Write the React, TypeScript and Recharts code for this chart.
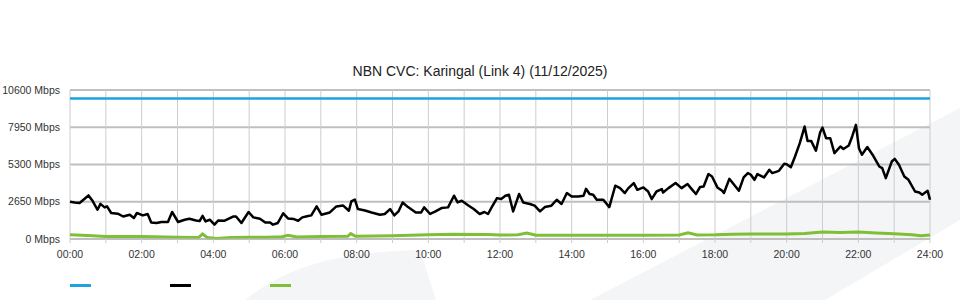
import { CartesianGrid, Legend, Line, LineChart, XAxis, YAxis } from "recharts";

const title = "NBN CVC: Karingal (Link 4) (11/12/2025)";

// minutes since midnight / Mbps
const capacityTimes = [0, 1440];
const capacityValues = [10000, 10000];

const downTimes = [
  0, 8, 16, 24, 31, 38, 46, 51, 58, 62, 69, 80, 89, 100, 107, 112, 122, 130, 136, 145,
  153, 164, 171, 181, 192, 200, 211, 217, 222, 227, 234, 242, 248, 259, 273, 278, 287, 299, 307, 318,
  327, 335, 340, 348, 357, 365, 375, 382, 389, 397, 404, 413, 421, 435, 446, 457, 467, 471, 477, 482,
  494, 505, 519, 527, 536, 543, 550, 557, 566, 579, 588, 593, 603, 612, 622, 633, 643, 649, 656, 667,
  676, 686, 694, 700, 706, 715, 722, 729, 735, 742, 752, 759, 770, 778, 787, 795, 806, 815, 823, 832,
  840, 851, 860, 864, 870, 876, 882, 893, 903, 913, 921, 929, 935, 944, 950, 960, 968, 974, 982, 991,
  993, 1002, 1014, 1024, 1034, 1041, 1048, 1055, 1061, 1069, 1075, 1084, 1092, 1095, 1104, 1120, 1128, 1135, 1140, 1146,
  1151, 1162, 1171, 1176, 1187, 1196, 1200, 1207, 1214, 1222, 1230, 1235, 1241, 1249, 1256, 1260, 1266, 1273, 1280, 1290,
  1295, 1304, 1310, 1316, 1321, 1326, 1335, 1345, 1355, 1360, 1366, 1376, 1381, 1388, 1397, 1404, 1415, 1422, 1427, 1436,
  1440,
];
const downValues = [
  2650, 2600, 2560, 2850, 3100, 2700, 2080, 2500, 2250, 2320, 1850, 1800, 1600, 1730, 1490, 1850, 1680, 1780, 1180, 1140,
  1210, 1210, 1920, 1210, 1370, 1440, 1320, 1280, 1650, 1250, 1370, 1020, 1320, 1300, 1600, 1600, 1140, 1920, 1540, 1440,
  1180, 1180, 1020, 1140, 1820, 1460, 1420, 1300, 1540, 1620, 1680, 2320, 1730, 1890, 2320, 2390, 2010, 2670, 2810, 2130,
  2030, 1890, 1730, 1780, 2130, 1680, 1960, 2600, 2270, 1890, 1890, 2250, 1780, 1960, 2200, 2250, 3080, 2600, 2720, 2390,
  2130, 1780, 1920, 1780, 2250, 2910, 2840, 3080, 3150, 1960, 3200, 2600, 2490, 2370, 1960, 2270, 2370, 2790, 2490, 3270,
  3030, 3030, 3080, 3570, 3200, 3150, 2790, 2790, 2270, 3790, 3620, 3270, 3620, 3980, 3500, 3670, 3380, 2840, 3380, 3550,
  3310, 3620, 3980, 3620, 3910, 3550, 3200, 3700, 3740, 4620, 4450, 3670, 3430, 3270, 4280, 3430, 4380, 4690, 4570, 4210,
  4620, 4380, 4920, 4690, 4850, 5350, 5320, 5110, 5870, 6820, 8000, 6980, 6980, 6280, 7580, 7930, 7170, 7170, 6110, 6580,
  6400, 6650, 7330, 8120, 6460, 5990, 6540, 5920, 5160, 5040, 4330, 5510, 5700, 5280, 4450, 4210, 3380, 3310, 3150, 3430,
  2790,
];

const upTimes = [
  0, 30, 60, 120, 180, 215, 222, 230, 245, 270, 300, 330, 355, 365, 380, 420, 465, 470, 478, 540,
  570, 600, 640, 700, 720, 750, 765, 780, 840, 900, 960, 1020, 1035, 1050, 1080, 1110, 1140, 1200, 1230, 1260,
  1290, 1320, 1350, 1380, 1410, 1425, 1440,
];
const upValues = [
  300, 250, 185, 185, 120, 100, 355, 100, 40, 100, 130, 120, 160, 270, 150, 170, 190, 380, 190, 230,
  260, 300, 340, 320, 280, 300, 420, 270, 260, 270, 270, 290, 440, 290, 300, 340, 350, 360, 400, 490,
  470, 500, 430, 380, 300, 230, 290,
];

const yTicks = [0, 2650, 5300, 7950, 10600];
const hourTicks = [
  0, 60, 120, 180, 240, 300, 360, 420, 480, 540, 600, 660, 720, 780, 840, 900, 960, 1020, 1080, 1140,
  1200, 1260, 1320, 1380, 1440,
];

const BLUE = "#1ea3df";
const BLACK = "#000000";
const GREEN = "#7fbf36";
const FONT = "'Liberation Sans', Arial, sans-serif";

const toPoints = (times: number[], values: number[]) => times.map((t, i) => ({ t, v: values[i] }));

const fmtHour = (v: number) => (v % 120 === 0 ? `${String(v / 60).padStart(2, "0")}:00` : "");

function YTick({ x, y, payload }: any) {
  return (
    <text x={x} y={y} dy="0.35em" textAnchor="end" fontSize={10.5} fill="#333" fontFamily={FONT}>
      {`${payload.value} Mbps`}
    </text>
  );
}

function LegendSwatches({ payload }: any) {
  return (
    <div style={{ position: "relative", width: 960, height: 30 }}>
      {(payload || []).map((entry: any, i: number) => (
        <span
          key={i}
          style={{
            position: "absolute",
            left: 70 + i * 100,
            top: 14,
            width: 21,
            height: 2.5,
            background: entry.color,
          }}
        />
      ))}
    </div>
  );
}

export default function App() {
  return (
    <div style={{ position: "fixed", left: 0, top: 0, width: 960, height: 300, background: "#fff", fontFamily: FONT }}>
      <svg width={960} height={300} style={{ position: "absolute", left: 0, top: 0 }}>
        <path d="M 245 300 C 285 268, 335 252, 420 250 L 436 300 Z" fill="#f4f5f7" />
        <polygon points="590,300 960,108 960,220 825,300" fill="#f4f5f7" />
      </svg>
      <div
        style={{
          position: "absolute",
          left: 0,
          top: 62,
          width: 960,
          textAlign: "center",
          fontSize: 14,
          color: "#222",
          lineHeight: "18px",
        }}
      >
        {title}
      </div>
      <div style={{ position: "absolute", left: 0, top: 0 }}>
        <LineChart width={960} height={300} margin={{ top: 90, right: 30, left: 0, bottom: 1 }}>
          <CartesianGrid vertical={false} stroke="#bfbfbf" strokeWidth={2} />
          <CartesianGrid horizontal={false} stroke="#cdcdcd" strokeWidth={1} />
          <XAxis
            type="number"
            dataKey="t"
            domain={[0, 1440]}
            ticks={hourTicks}
            interval={0}
            tickFormatter={fmtHour}
            axisLine={{ stroke: "#bfbfbf" }}
            tickLine={{ stroke: "#cdcdcd" }}
            tickSize={4}
            tickMargin={8}
            height={30}
            tick={{ fontSize: 10.5, fill: "#333", fontFamily: FONT }}
          />
          <YAxis
            type="number"
            domain={[0, 10600]}
            ticks={yTicks}
            interval={0}
            width={70}
            axisLine={false}
            tickLine={false}
            tickSize={6}
            tickMargin={4}
            tick={<YTick />}
          />
          <Legend
            verticalAlign="bottom"
            height={30}
            content={<LegendSwatches />}
            wrapperStyle={{ left: 0, bottom: 0, width: 960, height: 30 }}
          />
          <Line
            data={toPoints(capacityTimes, capacityValues)}
            dataKey="v"
            name="capacity"
            stroke={BLUE}
            strokeWidth={2.5}
            dot={false}
            isAnimationActive={false}
          />
          <Line
            data={toPoints(downTimes, downValues)}
            dataKey="v"
            name="down"
            stroke={BLACK}
            strokeWidth={2.5}
            strokeLinejoin="round"
            dot={false}
            isAnimationActive={false}
          />
          <Line
            data={toPoints(upTimes, upValues)}
            dataKey="v"
            name="up"
            stroke={GREEN}
            strokeWidth={3}
            dot={false}
            isAnimationActive={false}
          />
        </LineChart>
      </div>
    </div>
  );
}
